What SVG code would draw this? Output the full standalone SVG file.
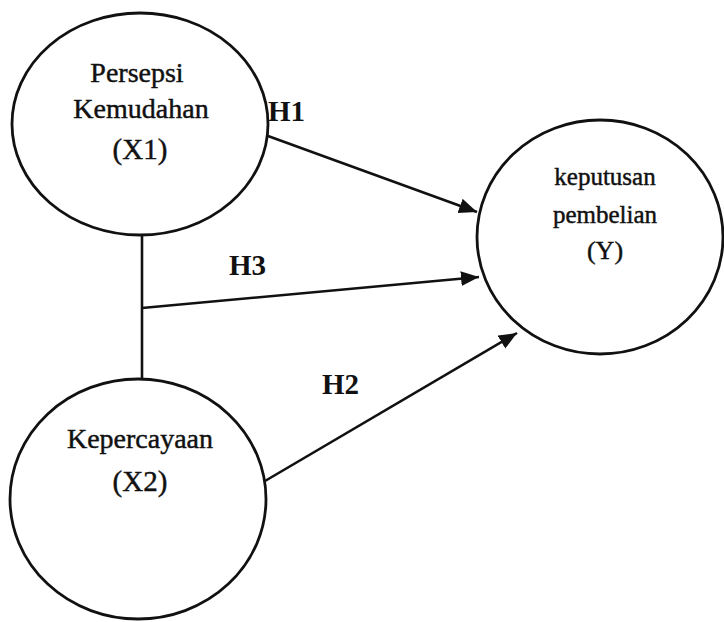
<svg xmlns="http://www.w3.org/2000/svg" width="724" height="622" viewBox="0 0 724 622">
<defs>
<style>
.node{fill:#fff;stroke:#111;stroke-width:2.8}
.t{font-family:"Liberation Serif","Times New Roman",serif;fill:#111;stroke:#111;stroke-width:0.45;text-anchor:middle}
.lbl{font-family:"Liberation Serif","Times New Roman",serif;fill:#111;font-weight:bold;font-size:29px}
.edge{stroke:#111;stroke-width:2.6;fill:none}
</style>
<marker id="arr" markerUnits="userSpaceOnUse" markerWidth="20" markerHeight="16" refX="18" refY="7.5" orient="auto">
<path d="M0,0 L18,7.5 L0,15 Z" fill="#111"/>
</marker>
</defs>
<rect width="724" height="622" fill="#fff"/>
<g id="connectors">
<line class="edge" x1="142" y1="235" x2="142" y2="379"/>
<line class="edge" x1="268" y1="136" x2="477" y2="212" marker-end="url(#arr)"/>
<line class="edge" x1="142" y1="308" x2="479" y2="277" marker-end="url(#arr)"/>
<line class="edge" x1="265" y1="481" x2="517" y2="333" marker-end="url(#arr)"/>
<text class="lbl" x="268" y="121">H1</text>
<text class="lbl" x="229" y="275">H3</text>
<text class="lbl" x="322" y="394">H2</text>
</g>
<g id="x1">
<ellipse class="node" cx="140" cy="124" rx="128" ry="111"/>
<text class="t" font-size="28" x="137" y="82">Persepsi</text>
<text class="t" font-size="28" x="141" y="118">Kemudahan</text>
<text class="t" font-size="29" x="140" y="159">(X1)</text>
</g>
<g id="x2">
<ellipse class="node" cx="138" cy="499" rx="128" ry="120"/>
<text class="t" font-size="28" x="140" y="448">Kepercayaan</text>
<text class="t" font-size="29" x="140" y="491">(X2)</text>
</g>
<g id="y">
<ellipse class="node" cx="600" cy="237" rx="123" ry="117"/>
<text class="t" font-size="25" x="605" y="185">keputusan</text>
<text class="t" font-size="25" x="605" y="223">pembelian</text>
<text class="t" font-size="26" x="605" y="259">(Y)</text>
</g>
</svg>
